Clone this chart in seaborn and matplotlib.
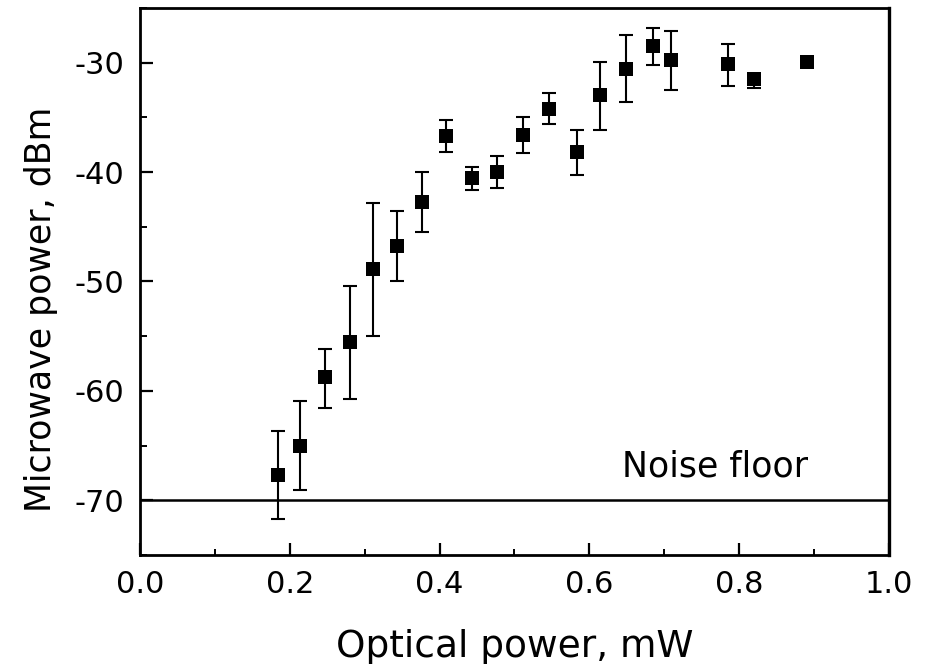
import numpy as np
import pandas as pd
import matplotlib
matplotlib.use("Agg")
import matplotlib.pyplot as plt
import seaborn as sns
from matplotlib.ticker import MultipleLocator, FormatStrFormatter

# data (optical power in mW, microwave power in dBm)
optical_mw = [0.184, 0.214, 0.247, 0.280, 0.311, 0.343, 0.376, 0.409, 0.443, 0.476,
              0.511, 0.546, 0.584, 0.614, 0.649, 0.685, 0.709, 0.785, 0.820, 0.890]
power_dbm = [-67.7, -65.0, -58.7, -55.5, -48.9, -46.8, -42.7, -36.7, -40.5, -40.0,
             -36.6, -34.2, -38.2, -33.0, -30.6, -28.45, -29.75, -30.1, -31.5, -29.9]
err_low = [-71.7, -69.1, -61.6, -60.7, -55.0, -50.0, -45.5, -38.2, -41.6, -41.5,
           -38.3, -35.6, -40.3, -36.2, -33.6, -30.2, -32.5, -32.1, -32.3, -29.9]
err_high = [-63.7, -60.9, -56.2, -50.4, -42.8, -43.6, -40.0, -35.2, -39.5, -38.5,
            -35.0, -32.8, -36.2, -29.9, -27.5, -26.8, -27.1, -28.3, -31.1, -29.9]
noise_floor = -70

df = pd.DataFrame({"optical": optical_mw, "power": power_dbm,
                   "low": err_low, "high": err_high})

sns.set_theme(style="ticks")
plt.rcParams["font.family"] = ["DejaVu Sans"]
plt.rcParams["axes.unicode_minus"] = False

fig, ax = plt.subplots(figsize=(9.34, 6.64), dpi=100)
fig.subplots_adjust(left=0.1499, right=0.9518, bottom=0.1642, top=0.988)

# error bars (asymmetric)
yerr = np.array([df["power"] - df["low"], df["high"] - df["power"]])
ax.errorbar(df["optical"], df["power"], yerr=yerr, fmt="none", ecolor="black",
            elinewidth=1.5, capsize=4.8, capthick=1.5, zorder=2)

sns.scatterplot(data=df, x="optical", y="power", marker="s", s=105, color="black",
                linewidth=0, ax=ax, zorder=3)

# noise floor
ax.axhline(noise_floor, color="black", lw=1.8, zorder=1)
ax.text(0.643, -67.8, "Noise floor", fontsize=25, color="black", va="baseline")

ax.set_xlim(0, 1.0)
ax.set_ylim(-75, -25)
ax.xaxis.set_major_locator(MultipleLocator(0.2))
ax.xaxis.set_minor_locator(MultipleLocator(0.1))
ax.xaxis.set_major_formatter(FormatStrFormatter("%.1f"))
ax.yaxis.set_major_locator(MultipleLocator(10))
ax.yaxis.set_minor_locator(MultipleLocator(5))

ax.tick_params(axis="both", which="both", direction="in", colors="black",
               labelsize=22, pad=11)
ax.tick_params(axis="y", which="major", length=9.4, width=1.6)
ax.tick_params(axis="y", which="minor", length=5, width=1.4)
ax.tick_params(axis="x", which="major", length=8.5, width=1.6)
ax.tick_params(axis="x", which="minor", length=4, width=1.4)

for side in ["left", "right", "top", "bottom"]:
    ax.spines[side].set_visible(True)
    ax.spines[side].set_color("black")
    ax.spines[side].set_linewidth(2.0)
ax.spines["right"].set_linewidth(2.4)

ax.set_xlabel("Optical power, mW", fontsize=27, color="black")
ax.set_ylabel("Microwave power, dBm", fontsize=25, color="black")
ax.xaxis.set_label_coords(0.5, -0.135)
ax.yaxis.set_label_coords(-0.11, 0.45)

fig.savefig("out.png", dpi=100, facecolor="white")
